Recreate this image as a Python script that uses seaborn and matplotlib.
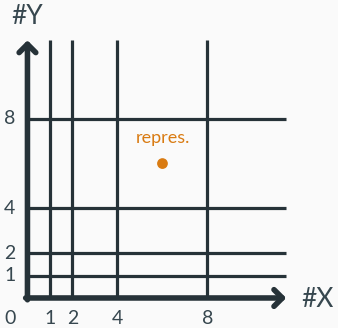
import matplotlib
matplotlib.use("Agg")
import matplotlib.pyplot as plt
import seaborn as sns
import pandas as pd

sns.set_theme(style="white")
plt.rcParams['font.family'] = ['Lato', 'DejaVu Sans']

grid_x = [1, 2, 4, 8]
grid_y = [1, 2, 4, 8]
tick_labels_x = ["1", "2", "4", "8"]
tick_labels_y = ["1", "2", "4", "8"]
point_x = [6]
point_y = [6]
point_label = ["repres."]
x_label = "#X"
y_label = "#Y"
axis_max = 11.5

bg = "#fafafa"
line_c = "#263238"
text_c = "#37474f"
orange = "#d97b12"

fig = plt.figure(figsize=(3.38, 3.28), dpi=100, facecolor=bg)
ax = fig.add_axes([0, 0, 1, 1])
ax.set_facecolor(bg)
ax.set_xlim(-1.22, 13.8)
ax.set_ylim(-1.34, 13.3)
ax.axis("off")

ax.vlines(grid_x, 0, axis_max, color=line_c, lw=2.3)
ax.hlines(grid_y, 0, axis_max, color=line_c, lw=2.3)

arrow = dict(arrowstyle="->,head_length=0.5,head_width=0.5", color=line_c, lw=4,
             shrinkA=0, shrinkB=0, capstyle="round", joinstyle="round")
ax.annotate("", xy=(axis_max, 0), xytext=(-0.08, 0), arrowprops=arrow)
ax.annotate("", xy=(0, axis_max), xytext=(0, -0.08), arrowprops=arrow)

df = pd.DataFrame({"x": point_x, "y": point_y, "label": point_label})
sns.scatterplot(data=df, x="x", y="y", color=orange, s=60, edgecolor="none", ax=ax, legend=False)
for _, r in df.iterrows():
    ax.text(r.x, r.y + 1.15, r.label, color=orange, ha="center", va="center", fontsize=13)

fs = 14
for v, t in zip(grid_x, tick_labels_x):
    ax.text(v, -0.9, t, ha="center", va="center", color=text_c, fontsize=fs)
for v, t in zip(grid_y, tick_labels_y):
    ax.text(-0.78, v, t, ha="center", va="center", color=text_c, fontsize=fs)
ax.text(-0.78, -0.9, "0", ha="center", va="center", color=text_c, fontsize=fs)
ax.text(12.9, -0.05, x_label, ha="center", va="center", color=text_c, fontsize=19)
ax.text(0.0, 12.55, y_label, ha="center", va="center", color=text_c, fontsize=19)

fig.savefig("out.png", dpi=100, facecolor=bg)
